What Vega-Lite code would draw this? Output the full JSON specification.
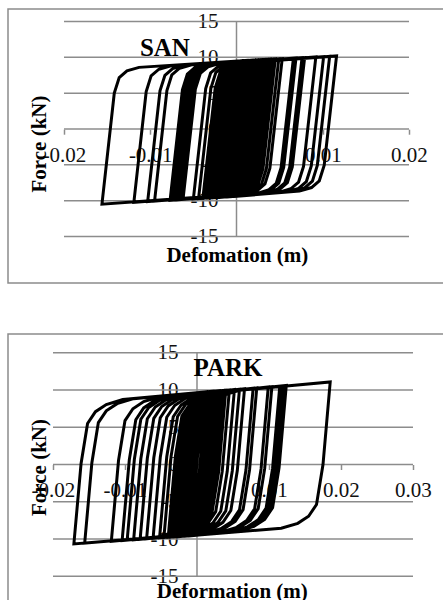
{
  "$schema": "https://vega.github.io/schema/vega-lite/v6.json",
  "padding": {"left": 7, "top": 8, "right": 0, "bottom": 0},
  "spacing": 49,
  "config": {
    "view": {"stroke": "#8c8c8c", "strokeWidth": 1.5},
    "font": "Liberation Serif",
    "axis": {"labelFont": "Liberation Serif", "titleFont": "Liberation Serif", "labelFontSize": 21, "labelColor": "#111111", "titleFontSize": 21, "titleFontWeight": "bold", "titleColor": "#000000", "grid": false, "domain": false}
  },
  "datasets": {
    "san": [
      {"x":-0.0062,"y":-9.83},{"x":-0.00477,"y":5.56},{"x":-0.0042,"y":7.75},{"x":-0.0033,"y":8.68},{"x":-0.0019,"y":9.17},
      {"x":0.0006,"y":9.54},{"x":-0.00083,"y":-5.81},{"x":-0.0014,"y":-8.0},{"x":-0.0023,"y":-8.94},{"x":-0.0037,"y":-9.44},
      {"x":-0.0156,"y":-10.49},{"x":-0.01417,"y":5.0},{"x":-0.0136,"y":7.18},{"x":-0.0127,"y":8.12},{"x":-0.0113,"y":8.6},
      {"x":0.0009,"y":9.55},{"x":-0.00053,"y":-5.79},{"x":-0.0011,"y":-7.98},{"x":-0.002,"y":-8.92},{"x":-0.0034,"y":-9.42},
      {"x":-0.0119,"y":-10.23},{"x":-0.01047,"y":5.22},{"x":-0.0099,"y":7.41},{"x":-0.009,"y":8.34},{"x":-0.0076,"y":8.82},
      {"x":0.0012,"y":9.57},{"x":-0.00023,"y":-5.77},{"x":-0.0008,"y":-7.96},{"x":-0.0017,"y":-8.9},{"x":-0.0031,"y":-9.4},
      {"x":-0.0103,"y":-10.12},{"x":-0.00887,"y":5.32},{"x":-0.0083,"y":7.5},{"x":-0.0074,"y":8.44},{"x":-0.006,"y":8.92},
      {"x":0.0015,"y":9.59},{"x":0.00007,"y":-5.75},{"x":-0.0005,"y":-7.94},{"x":-0.0014,"y":-8.88},{"x":-0.0028,"y":-9.38},
      {"x":-0.0095,"y":-10.07},{"x":-0.00807,"y":5.37},{"x":-0.0075,"y":7.55},{"x":-0.0066,"y":8.48},{"x":-0.0052,"y":8.97},
      {"x":0.0018,"y":9.61},{"x":0.00037,"y":-5.72},{"x":-0.0002,"y":-7.91},{"x":-0.0011,"y":-8.86},{"x":-0.0025,"y":-9.36},
      {"x":-0.0077,"y":-9.94},{"x":-0.00627,"y":5.47},{"x":-0.0057,"y":7.66},{"x":-0.0048,"y":8.59},{"x":-0.0034,"y":9.08},
      {"x":0.0021,"y":9.63},{"x":0.00067,"y":-5.7},{"x":0.0001,"y":-7.89},{"x":-0.0008,"y":-8.84},{"x":-0.0022,"y":-9.33},
      {"x":-0.0074,"y":-9.92},{"x":-0.00597,"y":5.49},{"x":-0.0054,"y":7.68},{"x":-0.0045,"y":8.61},{"x":-0.0031,"y":9.09},
      {"x":0.0024,"y":9.64},{"x":0.00097,"y":-5.68},{"x":0.0004,"y":-7.87},{"x":-0.0005,"y":-8.82},{"x":-0.0019,"y":-9.31},
      {"x":-0.0071,"y":-9.9},{"x":-0.00567,"y":5.51},{"x":-0.0051,"y":7.69},{"x":-0.0042,"y":8.63},{"x":-0.0028,"y":9.11},
      {"x":0.0027,"y":9.66},{"x":0.00127,"y":-5.66},{"x":0.0007,"y":-7.85},{"x":-0.0002,"y":-8.79},{"x":-0.0016,"y":-9.29},
      {"x":-0.0068,"y":-9.88},{"x":-0.00537,"y":5.53},{"x":-0.0048,"y":7.71},{"x":-0.0039,"y":8.65},{"x":-0.0025,"y":9.13},
      {"x":0.003,"y":9.68},{"x":0.00157,"y":-5.64},{"x":0.001,"y":-7.83},{"x":0.0001,"y":-8.77},{"x":-0.0013,"y":-9.27},
      {"x":-0.0065,"y":-9.86},{"x":-0.00507,"y":5.55},{"x":-0.0045,"y":7.73},{"x":-0.0036,"y":8.66},{"x":-0.0022,"y":9.15},
      {"x":0.0033,"y":9.7},{"x":0.00187,"y":-5.62},{"x":0.0013,"y":-7.81},{"x":0.0004,"y":-8.75},{"x":-0.001,"y":-9.25},
      {"x":-0.005,"y":-9.75},{"x":-0.00357,"y":5.64},{"x":-0.003,"y":7.82},{"x":-0.0021,"y":8.75},{"x":-0.0007,"y":9.24},
      {"x":0.0036,"y":9.72},{"x":0.00217,"y":-5.6},{"x":0.0016,"y":-7.79},{"x":0.0007,"y":-8.73},{"x":-0.0007,"y":-9.23},
      {"x":-0.0044,"y":-9.71},{"x":-0.00297,"y":5.67},{"x":-0.0024,"y":7.86},{"x":-0.0015,"y":8.79},{"x":-0.0001,"y":9.27},
      {"x":0.0039,"y":9.73},{"x":0.00247,"y":-5.58},{"x":0.0019,"y":-7.77},{"x":0.001,"y":-8.71},{"x":-0.0004,"y":-9.21},
      {"x":-0.0039,"y":-9.67},{"x":-0.00247,"y":5.7},{"x":-0.0019,"y":7.89},{"x":-0.001,"y":8.82},{"x":0.0004,"y":9.3},
      {"x":0.0042,"y":9.75},{"x":0.00277,"y":-5.56},{"x":0.0022,"y":-7.75},{"x":0.0013,"y":-8.69},{"x":-0.0001,"y":-9.19},
      {"x":-0.0036,"y":-9.65},{"x":-0.00217,"y":5.72},{"x":-0.0016,"y":7.9},{"x":-0.0007,"y":8.84},{"x":0.0007,"y":9.32},
      {"x":0.0045,"y":9.77},{"x":0.00307,"y":-5.54},{"x":0.0025,"y":-7.73},{"x":0.0016,"y":-8.67},{"x":0.0002,"y":-9.17},
      {"x":-0.0033,"y":-9.63},{"x":-0.00187,"y":5.74},{"x":-0.0013,"y":7.92},{"x":-0.0004,"y":8.86},{"x":0.001,"y":9.34},
      {"x":0.0049,"y":9.79},{"x":0.00347,"y":-5.51},{"x":0.0029,"y":-7.7},{"x":0.002,"y":-8.64},{"x":0.0006,"y":-9.14},
      {"x":-0.003,"y":-9.61},{"x":-0.00157,"y":5.76},{"x":-0.001,"y":7.94},{"x":-0.0001,"y":8.87},{"x":0.0013,"y":9.36},
      {"x":0.0053,"y":9.82},{"x":0.00387,"y":-5.48},{"x":0.0033,"y":-7.67},{"x":0.0024,"y":-8.61},{"x":0.001,"y":-9.11},
      {"x":-0.0027,"y":-9.59},{"x":-0.00127,"y":5.77},{"x":-0.0007,"y":7.96},{"x":0.0002,"y":8.89},{"x":0.0016,"y":9.38},
      {"x":0.0066,"y":9.9},{"x":0.00517,"y":-5.39},{"x":0.0046,"y":-7.58},{"x":0.0037,"y":-8.52},{"x":0.0023,"y":-9.02},
      {"x":-0.0024,"y":-9.57},{"x":-0.00097,"y":5.79},{"x":-0.0004,"y":7.98},{"x":0.0005,"y":8.91},{"x":0.0019,"y":9.39},
      {"x":0.0069,"y":9.91},{"x":0.00547,"y":-5.37},{"x":0.0049,"y":-7.56},{"x":0.004,"y":-8.5},{"x":0.0026,"y":-9.0},
      {"x":-0.0021,"y":-9.55},{"x":-0.00067,"y":5.81},{"x":-0.0001,"y":7.99},{"x":0.0008,"y":8.93},{"x":0.0022,"y":9.41},
      {"x":0.0076,"y":9.96},{"x":0.00617,"y":-5.32},{"x":0.0056,"y":-7.51},{"x":0.0047,"y":-8.45},{"x":0.0033,"y":-8.95},
      {"x":-0.0018,"y":-9.53},{"x":-0.00037,"y":5.83},{"x":0.0002,"y":8.01},{"x":0.0011,"y":8.95},{"x":0.0025,"y":9.43},
      {"x":0.0079,"y":9.97},{"x":0.00647,"y":-5.3},{"x":0.0059,"y":-7.49},{"x":0.005,"y":-8.43},{"x":0.0036,"y":-8.93},
      {"x":-0.0015,"y":-9.51},{"x":-0.00007,"y":5.85},{"x":0.0005,"y":8.03},{"x":0.0014,"y":8.96},{"x":0.0028,"y":9.45},
      {"x":0.0092,"y":10.05},{"x":0.00777,"y":-5.21},{"x":0.0072,"y":-7.4},{"x":0.0063,"y":-8.34},{"x":0.0049,"y":-8.84},
      {"x":-0.0012,"y":-9.48},{"x":0.00023,"y":5.86},{"x":0.0008,"y":8.05},{"x":0.0017,"y":8.98},{"x":0.0031,"y":9.47},
      {"x":0.0101,"y":10.11},{"x":0.00867,"y":-5.14},{"x":0.0081,"y":-7.33},{"x":0.0072,"y":-8.28},{"x":0.0058,"y":-8.77},
      {"x":-0.0009,"y":-9.46},{"x":0.00053,"y":5.88},{"x":0.0011,"y":8.07},{"x":0.002,"y":9.0},{"x":0.0034,"y":9.48},
      {"x":0.0108,"y":10.15},{"x":0.00937,"y":-5.09},{"x":0.0088,"y":-7.28},{"x":0.0079,"y":-8.23},{"x":0.0065,"y":-8.73},
      {"x":-0.0006,"y":-9.44},{"x":0.00083,"y":5.9},{"x":0.0014,"y":8.08},{"x":0.0023,"y":9.02},{"x":0.0037,"y":9.5},
      {"x":0.0116,"y":10.2},{"x":0.01017,"y":-5.04},{"x":0.0096,"y":-7.23},{"x":0.0087,"y":-8.17},{"x":0.0073,"y":-8.67},
      {"x":-0.0003,"y":-9.42}
    ],
    "park": [
      {"x":-0.0079,"y":-10.04},{"x":-0.0069,"y":0.84},{"x":-0.006,"y":6.2},{"x":-0.0049,"y":7.79},{"x":-0.0034,"y":8.75},{"x":-0.0011,"y":9.43},
      {"x":0.0013,"y":9.76},{"x":0.0003,"y":-1.18},{"x":-0.0006,"y":-6.54},{"x":-0.0017,"y":-8.12},{"x":-0.0032,"y":-9.07},{"x":-0.0055,"y":-9.72},
      {"x":-0.0171,"y":-10.66},{"x":-0.0161,"y":0.14},{"x":-0.0152,"y":5.5},{"x":-0.0141,"y":7.09},{"x":-0.0126,"y":8.05},{"x":-0.0103,"y":8.73},
      {"x":0.0016,"y":9.78},{"x":0.0006,"y":-1.16},{"x":-0.0003,"y":-6.52},{"x":-0.0014,"y":-8.1},{"x":-0.0029,"y":-9.05},{"x":-0.0052,"y":-9.7},
      {"x":-0.0156,"y":-10.56},{"x":-0.0146,"y":0.25},{"x":-0.0137,"y":5.62},{"x":-0.0126,"y":7.2},{"x":-0.0111,"y":8.17},{"x":-0.0088,"y":8.84},
      {"x":0.0019,"y":9.8},{"x":0.0009,"y":-1.14},{"x":0.0,"y":-6.5},{"x":-0.0011,"y":-8.07},{"x":-0.0026,"y":-9.03},{"x":-0.0049,"y":-9.68},
      {"x":-0.0119,"y":-10.31},{"x":-0.0109,"y":0.53},{"x":-0.01,"y":5.9},{"x":-0.0089,"y":7.48},{"x":-0.0074,"y":8.45},{"x":-0.0051,"y":9.12},
      {"x":0.0022,"y":9.83},{"x":0.0012,"y":-1.12},{"x":0.0003,"y":-6.48},{"x":-0.0008,"y":-8.05},{"x":-0.0023,"y":-9.01},{"x":-0.0046,"y":-9.66},
      {"x":-0.0104,"y":-10.21},{"x":-0.0094,"y":0.65},{"x":-0.0085,"y":6.01},{"x":-0.0074,"y":7.6},{"x":-0.0059,"y":8.56},{"x":-0.0036,"y":9.24},
      {"x":0.0025,"y":9.85},{"x":0.0015,"y":-1.1},{"x":0.0006,"y":-6.46},{"x":-0.0005,"y":-8.03},{"x":-0.002,"y":-8.99},{"x":-0.0043,"y":-9.64},
      {"x":-0.0097,"y":-10.16},{"x":-0.0087,"y":0.7},{"x":-0.0078,"y":6.07},{"x":-0.0067,"y":7.65},{"x":-0.0052,"y":8.61},{"x":-0.0029,"y":9.29},
      {"x":0.0028,"y":9.87},{"x":0.0018,"y":-1.08},{"x":0.0009,"y":-6.44},{"x":-0.0002,"y":-8.01},{"x":-0.0017,"y":-8.97},{"x":-0.004,"y":-9.62},
      {"x":-0.0088,"y":-10.1},{"x":-0.0078,"y":0.77},{"x":-0.0069,"y":6.14},{"x":-0.0058,"y":7.72},{"x":-0.0043,"y":8.68},{"x":-0.002,"y":9.36},
      {"x":0.0031,"y":9.9},{"x":0.0021,"y":-1.06},{"x":0.0012,"y":-6.42},{"x":0.0001,"y":-7.99},{"x":-0.0014,"y":-8.95},{"x":-0.0037,"y":-9.6},
      {"x":-0.0079,"y":-10.04},{"x":-0.0069,"y":0.84},{"x":-0.006,"y":6.2},{"x":-0.0049,"y":7.79},{"x":-0.0034,"y":8.75},{"x":-0.0011,"y":9.43},
      {"x":0.0034,"y":9.92},{"x":0.0024,"y":-1.04},{"x":0.0015,"y":-6.4},{"x":0.0004,"y":-7.97},{"x":-0.0011,"y":-8.92},{"x":-0.0034,"y":-9.58},
      {"x":-0.007,"y":-9.98},{"x":-0.006,"y":0.9},{"x":-0.0051,"y":6.27},{"x":-0.004,"y":7.86},{"x":-0.0025,"y":8.82},{"x":-0.0002,"y":9.5},
      {"x":0.0037,"y":9.94},{"x":0.0027,"y":-1.02},{"x":0.0018,"y":-6.38},{"x":0.0007,"y":-7.95},{"x":-0.0008,"y":-8.9},{"x":-0.0031,"y":-9.56},
      {"x":-0.0061,"y":-9.91},{"x":-0.0051,"y":0.97},{"x":-0.0042,"y":6.34},{"x":-0.0031,"y":7.92},{"x":-0.0016,"y":8.89},{"x":0.0007,"y":9.56},
      {"x":0.004,"y":9.96},{"x":0.003,"y":-1.0},{"x":0.0021,"y":-6.36},{"x":0.001,"y":-7.93},{"x":-0.0005,"y":-8.88},{"x":-0.0028,"y":-9.54},
      {"x":-0.0052,"y":-9.85},{"x":-0.0042,"y":1.04},{"x":-0.0033,"y":6.41},{"x":-0.0022,"y":7.99},{"x":-0.0007,"y":8.96},{"x":0.0016,"y":9.63},
      {"x":0.0045,"y":10.0},{"x":0.0035,"y":-0.96},{"x":0.0026,"y":-6.32},{"x":0.0015,"y":-7.9},{"x":0.0,"y":-8.85},{"x":-0.0023,"y":-9.51},
      {"x":-0.0046,"y":-9.81},{"x":-0.0036,"y":1.09},{"x":-0.0027,"y":6.45},{"x":-0.0016,"y":8.04},{"x":-0.0001,"y":9.0},{"x":0.0022,"y":9.68},
      {"x":0.0052,"y":10.06},{"x":0.0042,"y":-0.91},{"x":0.0033,"y":-6.28},{"x":0.0022,"y":-7.85},{"x":0.0007,"y":-8.8},{"x":-0.0016,"y":-9.46},
      {"x":-0.004,"y":-9.77},{"x":-0.003,"y":1.13},{"x":-0.0021,"y":6.5},{"x":-0.001,"y":8.08},{"x":0.0005,"y":9.05},{"x":0.0028,"y":9.72},
      {"x":0.0059,"y":10.11},{"x":0.0049,"y":-0.87},{"x":0.004,"y":-6.23},{"x":0.0029,"y":-7.8},{"x":0.0014,"y":-8.75},{"x":-0.0009,"y":-9.41},
      {"x":-0.0036,"y":-9.74},{"x":-0.0026,"y":1.16},{"x":-0.0017,"y":6.53},{"x":-0.0006,"y":8.11},{"x":0.0009,"y":9.08},{"x":0.0032,"y":9.75},
      {"x":0.0066,"y":10.16},{"x":0.0056,"y":-0.82},{"x":0.0047,"y":-6.18},{"x":0.0036,"y":-7.76},{"x":0.0021,"y":-8.71},{"x":-0.0002,"y":-9.36},
      {"x":-0.0033,"y":-9.72},{"x":-0.0023,"y":1.19},{"x":-0.0014,"y":6.55},{"x":-0.0003,"y":8.14},{"x":0.0012,"y":9.1},{"x":0.0035,"y":9.78},
      {"x":0.0078,"y":10.25},{"x":0.0068,"y":-0.74},{"x":0.0059,"y":-6.1},{"x":0.0048,"y":-7.67},{"x":0.0033,"y":-8.63},{"x":0.001,"y":-9.28},
      {"x":-0.003,"y":-9.7},{"x":-0.002,"y":1.21},{"x":-0.0011,"y":6.58},{"x":0.0,"y":8.16},{"x":0.0015,"y":9.12},{"x":0.0038,"y":9.8},
      {"x":0.0083,"y":10.29},{"x":0.0073,"y":-0.7},{"x":0.0064,"y":-6.06},{"x":0.0053,"y":-7.64},{"x":0.0038,"y":-8.59},{"x":0.0015,"y":-9.25},
      {"x":-0.0027,"y":-9.68},{"x":-0.0017,"y":1.23},{"x":-0.0008,"y":6.6},{"x":0.0003,"y":8.18},{"x":0.0018,"y":9.15},{"x":0.0041,"y":9.82},
      {"x":0.0099,"y":10.41},{"x":0.0089,"y":-0.59},{"x":0.008,"y":-5.96},{"x":0.0069,"y":-7.53},{"x":0.0054,"y":-8.48},{"x":0.0031,"y":-9.14},
      {"x":-0.0024,"y":-9.66},{"x":-0.0014,"y":1.25},{"x":-0.0005,"y":6.62},{"x":0.0006,"y":8.21},{"x":0.0021,"y":9.17},{"x":0.0044,"y":9.84},
      {"x":0.0104,"y":10.45},{"x":0.0094,"y":-0.56},{"x":0.0085,"y":-5.92},{"x":0.0074,"y":-7.5},{"x":0.0059,"y":-8.45},{"x":0.0036,"y":-9.1},
      {"x":-0.0021,"y":-9.64},{"x":-0.0011,"y":1.28},{"x":-0.0002,"y":6.64},{"x":0.0009,"y":8.23},{"x":0.0024,"y":9.19},{"x":0.0047,"y":9.87},
      {"x":0.0115,"y":10.53},{"x":0.0105,"y":-0.49},{"x":0.0096,"y":-5.85},{"x":0.0085,"y":-7.42},{"x":0.007,"y":-8.37},{"x":0.0047,"y":-9.03},
      {"x":-0.0018,"y":-9.62},{"x":-0.0008,"y":1.3},{"x":0.0001,"y":6.67},{"x":0.0012,"y":8.25},{"x":0.0027,"y":9.22},{"x":0.005,"y":9.89},
      {"x":0.0118,"y":10.56},{"x":0.0108,"y":-0.47},{"x":0.0099,"y":-5.83},{"x":0.0088,"y":-7.4},{"x":0.0073,"y":-8.35},{"x":0.005,"y":-9.01},
      {"x":-0.0015,"y":-9.6},{"x":-0.0005,"y":1.32},{"x":0.0004,"y":6.69},{"x":0.0015,"y":8.27},{"x":0.003,"y":9.24},{"x":0.0053,"y":9.91},
      {"x":0.0121,"y":10.58},{"x":0.0111,"y":-0.45},{"x":0.0102,"y":-5.81},{"x":0.0091,"y":-7.38},{"x":0.0076,"y":-8.33},{"x":0.0053,"y":-8.99},
      {"x":-0.0012,"y":-9.58},{"x":-0.0002,"y":1.34},{"x":0.0007,"y":6.71},{"x":0.0018,"y":8.3},{"x":0.0033,"y":9.26},{"x":0.0056,"y":9.94},
      {"x":0.0124,"y":10.6},{"x":0.0114,"y":-0.42},{"x":0.0105,"y":-5.79},{"x":0.0094,"y":-7.36},{"x":0.0079,"y":-8.31},{"x":0.0056,"y":-8.97},
      {"x":-0.0009,"y":-9.56},{"x":0.0001,"y":1.37},{"x":0.001,"y":6.74},{"x":0.0021,"y":8.32},{"x":0.0036,"y":9.28},{"x":0.0059,"y":9.96},
      {"x":0.0185,"y":11.07},{"x":0.0175,"y":-0.01},{"x":0.0166,"y":-5.37},{"x":0.0155,"y":-6.95},{"x":0.014,"y":-7.9},{"x":0.0117,"y":-8.55},
      {"x":-0.0006,"y":-9.54}
    ]
  },
  "vconcat": [
    {
      "width": 436,
      "height": 274,
      "layer": [
        {
          "data": {"values": [{"g": -15}, {"g": -10}, {"g": -5}, {"g": 0}, {"g": 5}, {"g": 10}, {"g": 15}]},
          "mark": {"type": "rule", "color": "#8c8c8c", "strokeWidth": 1.5},
          "encoding": {
            "y": {"field": "g", "type": "quantitative", "scale": {"domain": [-21.488, 16.744], "nice": false, "zero": false}},
            "x": {"datum": -0.02, "type": "quantitative", "scale": {"domain": [-0.026493, 0.024058], "nice": false, "zero": false}},
            "x2": {"datum": 0.02}
          }
        },
        {
          "data": {"values": [{}]},
          "mark": {"type": "rule", "color": "#8c8c8c", "strokeWidth": 1.5},
          "encoding": {
            "x": {"datum": 0, "type": "quantitative", "scale": {"domain": [-0.026493, 0.024058], "nice": false, "zero": false}},
            "y": {"datum": -15, "type": "quantitative", "scale": {"domain": [-21.488, 16.744], "nice": false, "zero": false}},
            "y2": {"datum": 15}
          }
        },
        {
          "data": {"name": "san"},
          "mark": {"type": "line", "color": "#000000", "strokeWidth": 3},
          "encoding": {
            "x": {"field": "x", "type": "quantitative", "scale": {"domain": [-0.026493, 0.024058], "nice": false, "zero": false},
              "axis": {"title": "Defomation (m)", "values": [-0.02, -0.01, 0, 0.01, 0.02], "format": ".2~f", "labelExpr": "replace(datum.label, '−', '-')", "offset": -153.8, "ticks": true, "tickSize": 5, "tickColor": "#8c8c8c", "tickWidth": 1.5, "labelPadding": 21, "labelBaseline": "middle", "labelFlush": false, "labelOverlap": false, "titleX": 228.8, "titleY": 125.8, "titleBaseline": "middle"}},
            "y": {"field": "y", "type": "quantitative", "scale": {"domain": [-21.488, 16.744], "nice": false, "zero": false},
              "axis": {"title": "Force (kN)", "values": [-15, -10, -5, 0, 5, 10, 15], "format": "d", "labelExpr": "replace(datum.label, '−', '-')", "offset": -228.5, "ticks": false, "labelPadding": 18.5, "labelBaseline": "middle", "labelFlush": false, "labelOverlap": false, "titleX": -197, "titleY": 134.5, "titleBaseline": "middle"}},
            "order": {"value": null}
          }
        },
        {
          "data": {"values": [{"label": "SAN"}]},
          "mark": {"type": "text", "font": "Liberation Serif", "fontSize": 25, "fontWeight": "bold", "color": "#000000", "baseline": "middle", "align": "center"},
          "encoding": {
            "x": {"datum": -0.0083, "type": "quantitative", "scale": {"domain": [-0.026493, 0.024058], "nice": false, "zero": false}},
            "y": {"datum": 11.3, "type": "quantitative", "scale": {"domain": [-21.488, 16.744], "nice": false, "zero": false}},
            "text": {"field": "label"}
          }
        }
      ]
    },
    {
      "width": 436,
      "height": 275,
      "layer": [
        {
          "data": {"values": [{"g": -15}, {"g": -10}, {"g": -5}, {"g": 0}, {"g": 5}, {"g": 10}, {"g": 15}]},
          "mark": {"type": "rule", "color": "#8c8c8c", "strokeWidth": 1.5},
          "encoding": {
            "y": {"field": "g", "type": "quantitative", "scale": {"domain": [-19.396, 17.517], "nice": false, "zero": false}},
            "x": {"datum": -0.02, "type": "quantitative", "scale": {"domain": [-0.02625, 0.034306], "nice": false, "zero": false}},
            "x2": {"datum": 0.03}
          }
        },
        {
          "data": {"values": [{}]},
          "mark": {"type": "rule", "color": "#8c8c8c", "strokeWidth": 1.5},
          "encoding": {
            "x": {"datum": 0, "type": "quantitative", "scale": {"domain": [-0.02625, 0.034306], "nice": false, "zero": false}},
            "y": {"datum": -15, "type": "quantitative", "scale": {"domain": [-19.396, 17.517], "nice": false, "zero": false}},
            "y2": {"datum": 15}
          }
        },
        {
          "data": {"name": "park"},
          "mark": {"type": "line", "color": "#000000", "strokeWidth": 3},
          "encoding": {
            "x": {"field": "x", "type": "quantitative", "scale": {"domain": [-0.02625, 0.034306], "nice": false, "zero": false},
              "axis": {"title": "Deformation (m)", "values": [-0.02, -0.01, 0, 0.01, 0.02, 0.03], "format": ".2~f", "labelExpr": "replace(datum.label, '−', '-')", "offset": -144.5, "ticks": true, "tickSize": 5, "tickColor": "#8c8c8c", "tickWidth": 1.5, "labelPadding": 21, "labelBaseline": "middle", "labelFlush": false, "labelOverlap": false, "titleX": 223.8, "titleY": 126.5, "titleBaseline": "middle"}},
            "y": {"field": "y", "type": "quantitative", "scale": {"domain": [-19.396, 17.517], "nice": false, "zero": false},
              "axis": {"title": "Force (kN)", "values": [-15, -10, -5, 0, 5, 10, 15], "format": "d", "labelExpr": "replace(datum.label, '−', '-')", "offset": -189, "ticks": false, "labelPadding": 19, "labelBaseline": "middle", "labelFlush": false, "labelOverlap": false, "titleX": -157.5, "titleY": 133, "titleBaseline": "middle"}},
            "order": {"value": null}
          }
        },
        {
          "data": {"values": [{"label": "PARK"}]},
          "mark": {"type": "text", "font": "Liberation Serif", "fontSize": 25, "fontWeight": "bold", "color": "#000000", "baseline": "middle", "align": "center"},
          "encoding": {
            "x": {"datum": 0.0043, "type": "quantitative", "scale": {"domain": [-0.02625, 0.034306], "nice": false, "zero": false}},
            "y": {"datum": 12.9, "type": "quantitative", "scale": {"domain": [-19.396, 17.517], "nice": false, "zero": false}},
            "text": {"field": "label"}
          }
        }
      ]
    }
  ]
}
